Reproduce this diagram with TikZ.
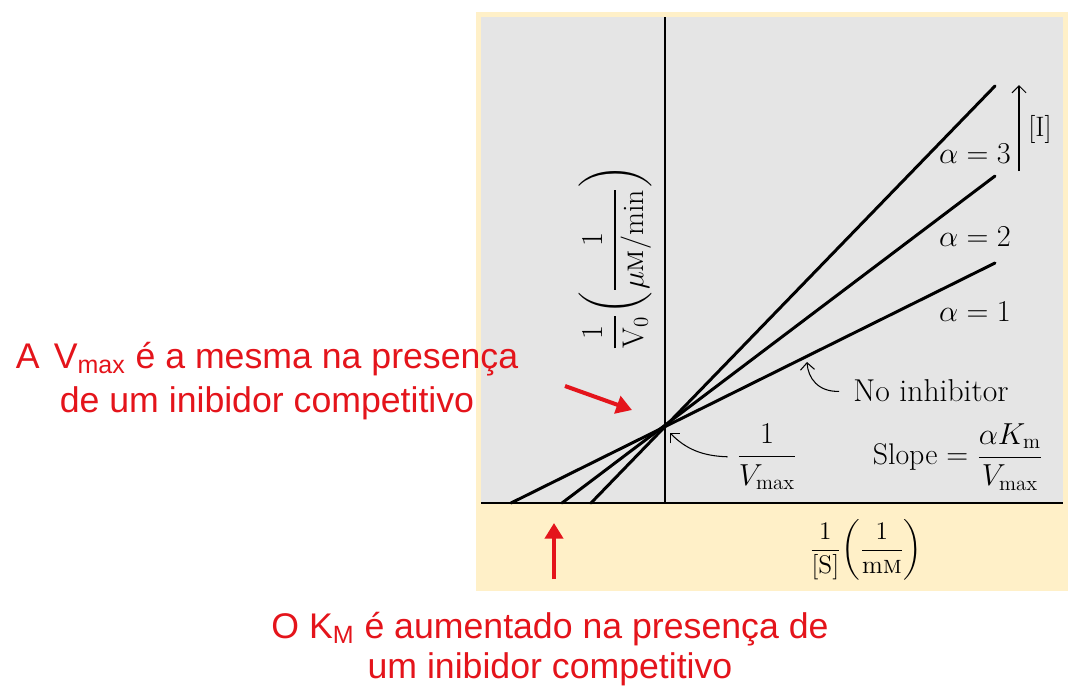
\documentclass[tikz,border=0pt]{standalone}
\usepackage{amsmath}
\usepackage{fontspec}
\newfontfamily\notefont{Liberation Sans}
\usetikzlibrary{arrows.meta}
\definecolor{beige}{RGB}{255,240,200}
\definecolor{plotgray}{RGB}{229,229,229}
\definecolor{notered}{RGB}{228,20,27}

\begin{document}
\begin{tikzpicture}[x=0.02cm,y=-0.02cm,
        plotline/.style={line width=1.7pt,line cap=round},
        axis/.style={line width=0.8pt},
        label/.style={font=\fontsize{16}{19}\selectfont,inner sep=1pt},
        note/.style={text=notered,align=center,font=\notefont\fontsize{20.3}{25}\selectfont},
        redarrow/.style={notered,line width=2.3pt,arrows=-{Triangle[angle=60:3.6mm]}},
        pointer/.style={line width=0.6pt,arrows=-{Straight Barb[length=4pt]}}]

        %\draw [help lines] (0,0) grid (1090,698);
        \useasboundingbox (0,0) rectangle (1090,698);

        \fill[beige] (476,12) rectangle (1068,591);
        \fill[plotgray] (481,17) rectangle (1063,503);

        \draw[axis] (481,503) -- (1063,503);
        \draw[axis] (665,17) -- (665,503);

        \path   (665,427) coordinate (p)
                (511,503) coordinate (x1)
                (562,503) coordinate (x2)
                (591,503) coordinate (x3)
                (995,263) coordinate (e1)
                (995,176) coordinate (e2)
                (995,86) coordinate (e3)
                (1019,171) coordinate (ibot)
                (1019,85) coordinate (itop)
                (807,362) coordinate (t1)
                (670,433) coordinate (t2)
                (565,386) coordinate (r1)
                (632,410) coordinate (r2)
                (554,579) coordinate (r3)
                (554,523) coordinate (r4);

        \path   (975,154) node (a3) [label] {$\alpha = 3$}
                (975,237) node (a2) [label] {$\alpha = 2$}
                (975,312) node (a1) [label] {$\alpha = 1$}
                (1040,129) node (inh) [label] {[I]}
                (931,391) node (noinh) [label,font=\fontsize{18}{21}\selectfont] {No inhibitor}
                (767,457) node (vmax) [label,font=\fontsize{17}{20}\selectfont] {$\dfrac{1}{V_{\max}}$}
                (958,457) node (slope) [label,font=\fontsize{17}{20}\selectfont] {Slope $= \dfrac{\alpha K_{\mathrm{m}}}{V_{\max}}$}
                (615,258) node (ylab) [label,font=\fontsize{17}{20}\selectfont,rotate=90] {$\dfrac{1}{\mathrm{V}_0}\!\left(\dfrac{1}{\mu\text{\textsc{m}}/\mathrm{min}}\right)$}
                (866,550) node (xlab) [label,font=\fontsize{14.5}{17}\selectfont] {$\dfrac{1}{[\mathrm{S}]}\!\left(\dfrac{1}{\text{m\textsc{m}}}\right)$}
                (267,381) node (vnote) [note] {A\hspace{0.4em}V\textsubscript{max} é a mesma na presença\\de um inibidor competitivo}
                (550,649) node (knote) [note,font=\notefont\fontsize{20.3}{23}\selectfont] {O K\textsubscript{M} é aumentado na presença de\\um inibidor competitivo};

        \draw[plotline] (x1) -- (e1);
        \draw[plotline] (x2) -- (e2);
        \draw[plotline] (x3) -- (e3);

        \draw[pointer] (ibot) -- (itop);
        \draw[pointer,shorten <=7pt] (noinh.west) .. controls (818,392) and (808,378) .. (t1);
        \draw[pointer,shorten <=4pt] (vmax.west) .. controls (702,456) and (686,449) .. (t2);

        \draw[redarrow] (r1) -- (r2);
        \draw[redarrow] (r3) -- (r4);

    \end{tikzpicture}
\end{document}
